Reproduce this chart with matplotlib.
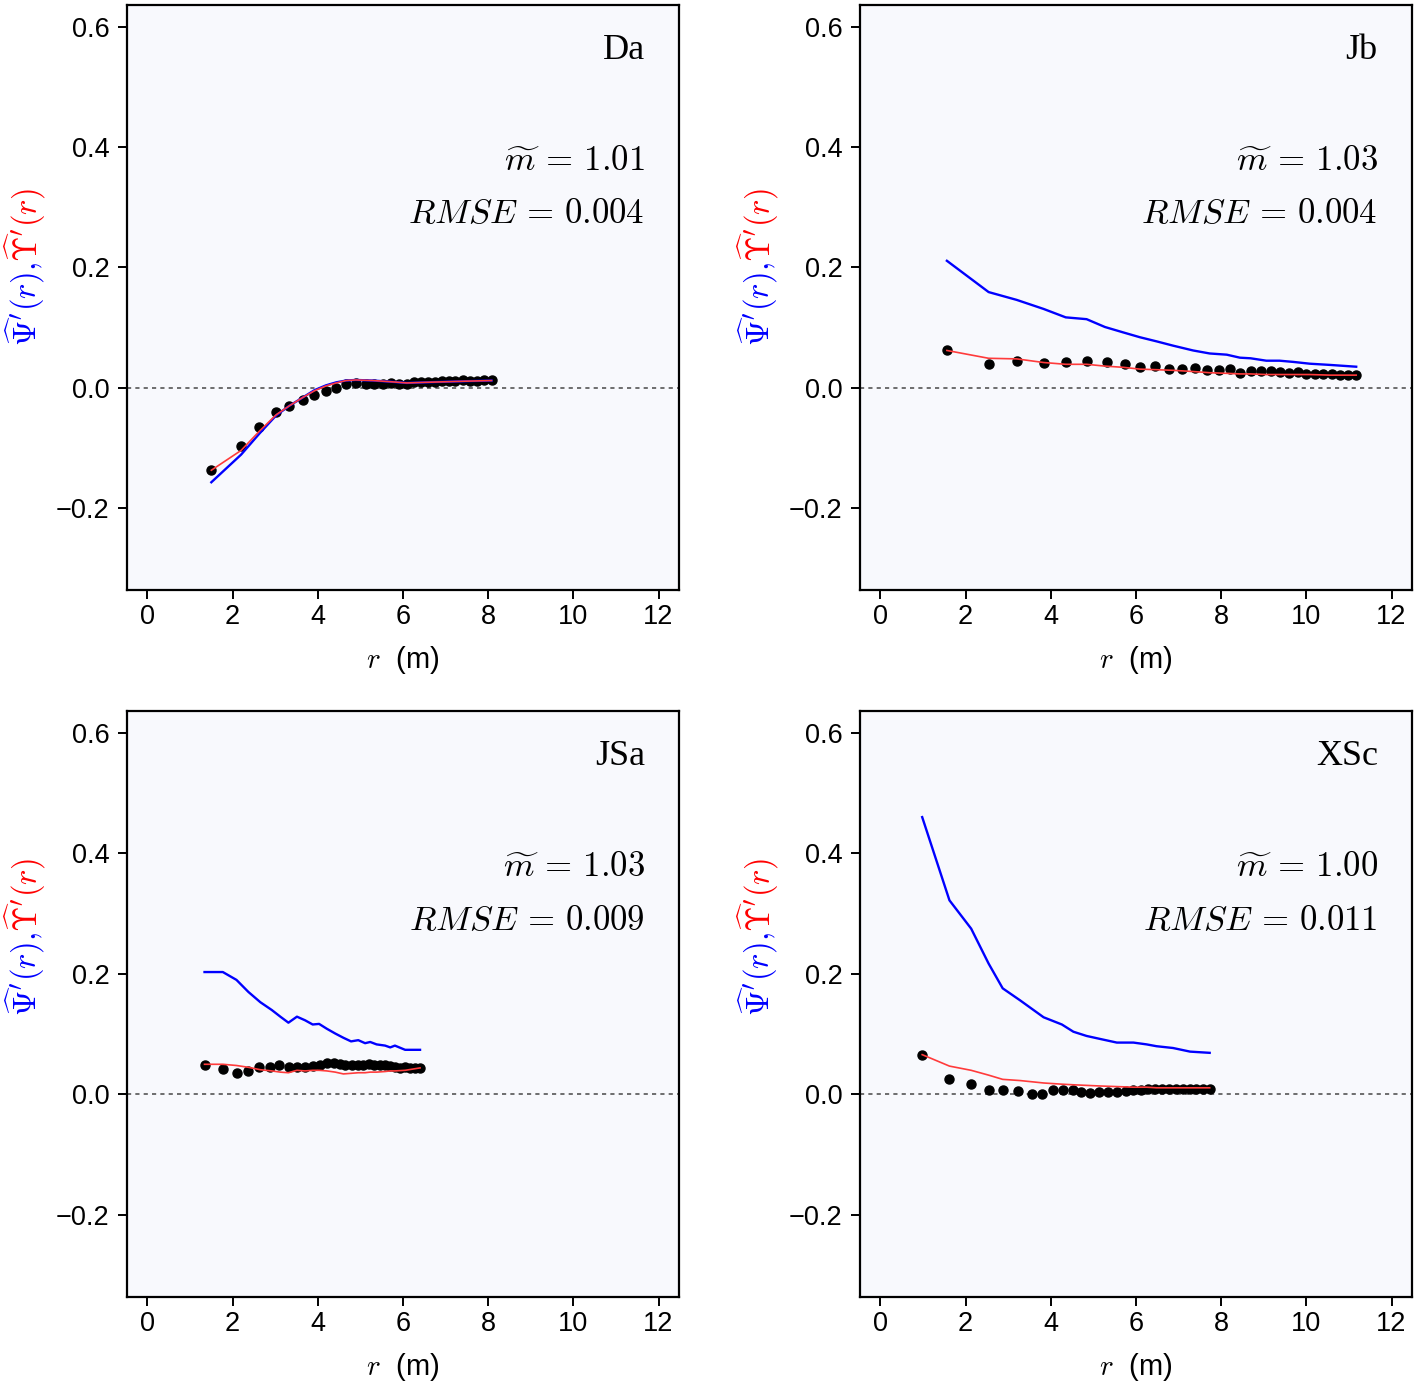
import matplotlib
matplotlib.use('Agg')
import matplotlib.pyplot as plt
from matplotlib.mathtext import MathTextParser

plt.rcParams['font.family'] = ['Liberation Sans', 'DejaVu Sans']
plt.rcParams['mathtext.fontset'] = 'cm'

# Panel Da
da_r_pts = [1.50, 2.20, 2.63, 3.02, 3.33, 3.65, 3.92, 4.19, 4.43, 4.66, 4.89, 5.13, 5.33,
            5.52, 5.72, 5.91, 6.09, 6.26, 6.42, 6.59, 6.75, 6.91, 7.08, 7.23, 7.40, 7.57,
            7.74, 7.91, 8.08]
da_pts = [-0.137, -0.097, -0.066, -0.041, -0.030, -0.021, -0.012, -0.005, 0.000, 0.006,
          0.008, 0.007, 0.007, 0.007, 0.008, 0.006, 0.006, 0.009, 0.010, 0.010, 0.010,
          0.011, 0.012, 0.012, 0.013, 0.012, 0.012, 0.013, 0.013]
da_r_line = [1.50, 2.20, 2.63, 3.02, 3.33, 3.65, 3.92, 4.19, 4.43, 4.66, 4.89, 5.30,
             5.72, 6.09, 6.50, 7.00, 7.50, 8.08]
da_blue = [-0.157, -0.111, -0.076, -0.046, -0.030, -0.016, -0.004, 0.004, 0.009, 0.012,
           0.013, 0.012, 0.010, 0.008, 0.009, 0.010, 0.011, 0.012]
da_red = [-0.137, -0.104, -0.072, -0.045, -0.030, -0.016, -0.005, 0.003, 0.008, 0.012,
          0.013, 0.012, 0.010, 0.008, 0.009, 0.010, 0.011, 0.012]

# Panel Jb
jb_r_pts = [1.56, 2.55, 3.20, 3.83, 4.35, 4.86, 5.31, 5.74, 6.09, 6.45, 6.77, 7.09, 7.39,
            7.66, 7.94, 8.21, 8.45, 8.69, 8.94, 9.16, 9.37, 9.59, 9.80, 10.00, 10.20,
            10.39, 10.59, 10.78, 10.98, 11.16]
jb_pts = [0.062, 0.039, 0.045, 0.041, 0.042, 0.045, 0.042, 0.039, 0.035, 0.036, 0.031,
          0.032, 0.033, 0.030, 0.029, 0.031, 0.025, 0.028, 0.028, 0.028, 0.026, 0.024,
          0.026, 0.023, 0.023, 0.023, 0.023, 0.022, 0.022, 0.022]
jb_r_line = [1.56, 2.54, 3.20, 3.83, 4.35, 4.84, 5.27, 5.70, 6.09, 6.49, 6.87, 7.34, 7.73,
             8.13, 8.44, 8.69, 9.06, 9.37, 9.69, 10.08, 10.55, 11.17]
jb_blue = [0.211, 0.159, 0.146, 0.131, 0.117, 0.114, 0.101, 0.092, 0.084, 0.077, 0.070,
           0.062, 0.057, 0.055, 0.050, 0.049, 0.045, 0.045, 0.043, 0.040, 0.038, 0.035]
jb_red = [0.062, 0.049, 0.048, 0.042, 0.039, 0.039, 0.036, 0.034, 0.031, 0.030, 0.029,
          0.027, 0.025, 0.024, 0.023, 0.023, 0.022, 0.022, 0.022, 0.022, 0.021, 0.021]

# Panel JSa
jsa_r_pts = [1.34, 1.77, 2.10, 2.37, 2.63, 2.88, 3.10, 3.32, 3.51, 3.70, 3.88, 4.05, 4.21,
             4.37, 4.51, 4.64, 4.80, 4.94, 5.07, 5.20, 5.33, 5.46, 5.58, 5.70, 5.81, 5.93,
             6.05, 6.16, 6.28, 6.40]
jsa_pts = [0.048, 0.043, 0.036, 0.039, 0.046, 0.045, 0.048, 0.046, 0.045, 0.045, 0.047,
           0.049, 0.052, 0.052, 0.050, 0.048, 0.049, 0.048, 0.049, 0.050, 0.049, 0.048,
           0.048, 0.047, 0.045, 0.044, 0.045, 0.044, 0.044, 0.044]
jsa_r_line = [1.34, 1.77, 2.09, 2.37, 2.65, 2.92, 3.12, 3.31, 3.51, 3.70, 3.88, 4.03, 4.21,
              4.41, 4.60, 4.78, 4.95, 5.11, 5.23, 5.38, 5.58, 5.70, 5.81, 6.05, 6.40]
jsa_blue = [0.203, 0.203, 0.190, 0.170, 0.153, 0.140, 0.129, 0.119, 0.129, 0.123, 0.116,
            0.117, 0.109, 0.101, 0.094, 0.088, 0.090, 0.085, 0.087, 0.083, 0.081, 0.078,
            0.081, 0.074, 0.074]
jsa_red = [0.050, 0.050, 0.048, 0.045, 0.041, 0.039, 0.037, 0.036, 0.040, 0.039, 0.040,
           0.040, 0.039, 0.037, 0.034, 0.035, 0.036, 0.036, 0.037, 0.037, 0.038, 0.039,
           0.039, 0.040, 0.044]

# Panel XSc
xsc_r_pts = [0.98, 1.62, 2.13, 2.54, 2.87, 3.23, 3.56, 3.80, 4.05, 4.28, 4.51, 4.71, 4.92,
             5.14, 5.35, 5.56, 5.76, 5.94, 6.11, 6.27, 6.44, 6.60, 6.77, 6.93, 7.10, 7.26,
             7.42, 7.58, 7.73]
xsc_pts = [0.066, 0.026, 0.018, 0.007, 0.007, 0.006, 0.001, 0.001, 0.007, 0.008, 0.007,
           0.004, 0.003, 0.004, 0.004, 0.004, 0.006, 0.007, 0.008, 0.009, 0.009, 0.009,
           0.009, 0.009, 0.009, 0.009, 0.009, 0.009, 0.009]
xsc_r_line = [0.98, 1.62, 2.13, 2.54, 2.87, 3.28, 3.83, 4.26, 4.53, 4.84, 5.16, 5.55,
              5.94, 6.25, 6.48, 6.87, 7.27, 7.73]
xsc_blue = [0.460, 0.322, 0.275, 0.217, 0.176, 0.156, 0.128, 0.116, 0.104, 0.097, 0.092,
            0.086, 0.086, 0.083, 0.080, 0.077, 0.071, 0.069]
xsc_red = [0.066, 0.047, 0.040, 0.032, 0.025, 0.023, 0.019, 0.017, 0.016, 0.015, 0.014,
           0.013, 0.012, 0.012, 0.011, 0.011, 0.011, 0.011]

names = ['Da', 'Jb', 'JSa', 'XSc']
m_vals = ['1.01', '1.03', '1.03', '1.00']
rmse_vals = ['0.004', '0.004', '0.009', '0.011']

panels = [
    (da_r_pts, da_pts, da_r_line, da_blue, da_red),
    (jb_r_pts, jb_pts, jb_r_line, jb_blue, jb_red),
    (jsa_r_pts, jsa_pts, jsa_r_line, jsa_blue, jsa_red),
    (xsc_r_pts, xsc_pts, xsc_r_line, xsc_blue, xsc_red),
]

# bold italic greek if mathtext knows \boldsymbol
try:
    MathTextParser('agg').parse(r'$\boldsymbol{\Psi}$', dpi=100)
    bold = r'\boldsymbol'
except Exception:
    bold = r'\mathbf'

W, H = 1418, 1391
fig = plt.figure(figsize=(W / 100, H / 100), dpi=100)

# axes boxes in pixels (left, top, right, bottom)
boxes = [(127, 5, 679, 590), (860, 5, 1412, 590),
         (127, 711, 679, 1297), (860, 711, 1412, 1297)]

for i, (r_pts, pts, r_line, blue, red) in enumerate(panels):
    l, t, rr, b = boxes[i]
    ax = fig.add_axes([l / W, 1 - b / H, (rr - l) / W, (b - t) / H])
    ax.set_facecolor('#f8f9fd')
    ax.axhline(0, color='#555555', lw=1.2, ls=(0, (2.5, 2.5)), zorder=1)
    ax.plot(r_pts, pts, 'o', color='black', ms=6.5, zorder=2)
    ax.plot(r_line, blue, color='#0000ff', lw=1.7, zorder=3)
    ax.plot(r_line, red, color='#ff3b3b', lw=1.2, zorder=4)

    ax.set_xlim(-0.48, 12.48)
    ax.set_ylim(-0.336, 0.636)
    ax.set_xticks([0, 2, 4, 6, 8, 10, 12])
    ax.set_yticks([-0.2, 0.0, 0.2, 0.4, 0.6])
    ax.set_yticklabels(['\u22120.2', '0.0', '0.2', '0.4', '0.6'])
    ax.tick_params(direction='out', length=6.5, width=1.4, labelsize=19.5)
    ax.tick_params(axis='x', pad=3.5)
    ax.tick_params(axis='y', pad=6)
    for sp in ax.spines.values():
        sp.set_linewidth(1.6)

    ax.text(0.938, 0.923, names[i], transform=ax.transAxes, ha='right', va='center',
            fontsize=26, family='Liberation Serif')
    ax.text(0.938, 0.735, r'$\widetilde{m}\,=\,' + m_vals[i] + '$',
            transform=ax.transAxes, ha='right', va='center', fontsize=25)
    ax.text(0.938, 0.643, r'$RMSE\,=\,' + rmse_vals[i] + '$',
            transform=ax.transAxes, ha='right', va='center', fontsize=25)
    ax.text(0.5, -0.12, r'$r$  (m)', transform=ax.transAxes, ha='center', va='center',
            fontsize=21)

    # y label in two colours
    xl = (25 if i % 2 == 0 else 758) / W
    ysplit = (262 if i < 2 else 932)
    fig.text(xl, 1 - ysplit / H, r'$\widehat{' + bold + r'{\Psi}}^{\prime}(r),$',
             color='#0000ff', rotation=90, ha='center', va='top', fontsize=23.5)
    fig.text(xl, 1 - ysplit / H, r'$\widehat{' + bold + r'{\Upsilon}}^{\prime}(r)$',
             color='#ff0000', rotation=90, ha='center', va='bottom', fontsize=23.5)

fig.savefig('out.png', dpi=100, facecolor='white')
